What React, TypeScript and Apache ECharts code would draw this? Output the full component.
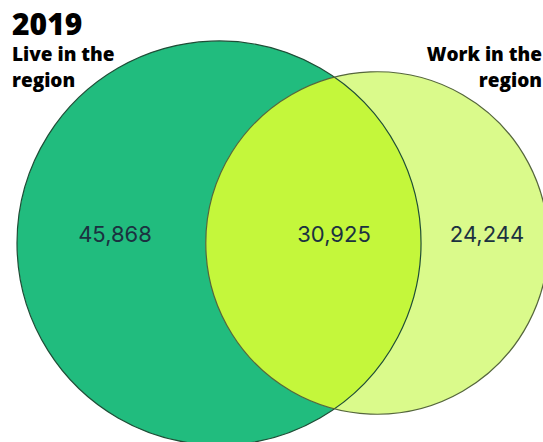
import React, { useEffect, useRef } from "react";
import * as echarts from "echarts";

// ---- data ----
const yearLabel = "2019";
const setNames = ["Live in the\nregion", "Work in the\nregion"];
const regionNames = ["Live only", "Live and work", "Work only"];
const regionValues = [45868, 30925, 24244];

// ---- layout / style ----
const W = 543;
const H = 442;
const CY = 243;
const LEFT_EDGE = 17;
const CENTER_GAP = 158;
const SCALE = 0.729; // px per sqrt(person)
const LABEL_X = [115, 334, 487];
const LABEL_Y = 234;
const circleFills = ["#21bc7e", "#dafa8b"];
const lensFill = "#c4f73b";
const circleStrokes = ["#1f4d36", "#55663c"];
const HEADING_TOP = 44.5;
const HEADING_LINE = 26;

export default function App() {
  const ref = useRef<HTMLDivElement>(null);
  useEffect(() => {
    const chart = echarts.init(ref.current!, null, { renderer: "svg" });
    const totals = [regionValues[0] + regionValues[1], regionValues[2] + regionValues[1]];
    const radii = totals.map((t) => SCALE * Math.sqrt(t));
    const c1x = LEFT_EDGE + radii[0];
    const c2x = c1x + CENTER_GAP;
    const circleData = [
      [c1x, CY, radii[0]],
      [c2x, CY, radii[1]],
    ];
    const labelData = regionValues.map((v, i) => [LABEL_X[i], LABEL_Y, v]);

    const circleItem = (fill: boolean) => (params: any, api: any) => {
      const c = api.coord([api.value(0), api.value(1)]);
      const r = Math.abs(api.size([api.value(2), 0])[0]);
      const i = params.dataIndex;
      return {
        type: "circle",
        shape: { cx: c[0], cy: c[1], r },
        style: fill
          ? { fill: circleFills[i], stroke: "none" }
          : { fill: "none", stroke: circleStrokes[i], lineWidth: 1.2 },
      };
    };

    const headingStyle = {
      fontFamily: "Open Sans",
      fontWeight: 800,
      fontSize: 19,
      lineHeight: 19,
      fill: "#000",
      verticalAlign: "top",
    };

    const headingLines: any[] = [];
    setNames.forEach((name, si) => {
      name.split("\n").forEach((line, li) => {
        headingLines.push({
          type: "text",
          x: si === 0 ? 12 : 542,
          y: HEADING_TOP + li * HEADING_LINE,
          style: { ...headingStyle, text: line, align: si === 0 ? "left" : "right" },
        });
      });
    });

    chart.setOption({
      animation: false,
      backgroundColor: "#ffffff",
      grid: { left: 0, right: 0, top: 0, bottom: 0 },
      xAxis: { type: "value", min: 0, max: W, show: false },
      yAxis: { type: "value", min: 0, max: H, inverse: true, show: false },
      series: [
        {
          type: "custom",
          name: "sets",
          data: circleData,
          renderItem: circleItem(true),
          z: 1,
        },
        {
          type: "custom",
          name: regionNames[1],
          data: [[c1x, CY, radii[0], c2x, radii[1]]],
          renderItem: (params: any, api: any) => {
            const x1 = api.value(0);
            const cy = api.value(1);
            const r1 = api.value(2);
            const x2 = api.value(3);
            const r2 = api.value(4);
            const d = x2 - x1;
            const a = (d * d + r1 * r1 - r2 * r2) / (2 * d);
            const h = Math.sqrt(r1 * r1 - a * a);
            const top = api.coord([x1 + a, cy - h]);
            const bot = api.coord([x1 + a, cy + h]);
            const pr1 = Math.abs(api.size([r1, 0])[0]);
            const pr2 = Math.abs(api.size([r2, 0])[0]);
            const pathData =
              `M ${top[0]} ${top[1]} A ${pr1} ${pr1} 0 0 1 ${bot[0]} ${bot[1]} ` +
              `A ${pr2} ${pr2} 0 0 1 ${top[0]} ${top[1]} Z`;
            return {
              type: "path",
              shape: { pathData },
              style: { fill: lensFill, stroke: "none" },
            };
          },
          z: 2,
        },
        {
          type: "custom",
          name: "outlines",
          data: circleData,
          renderItem: circleItem(false),
          z: 3,
        },
        {
          type: "custom",
          name: "values",
          data: labelData,
          renderItem: (params: any, api: any) => {
            const c = api.coord([api.value(0), api.value(1)]);
            return {
              type: "text",
              x: c[0],
              y: c[1],
              style: {
                text: Number(api.value(2)).toLocaleString("en-US"),
                align: "center",
                verticalAlign: "middle",
                fontFamily: "Inter",
                fontSize: 22,
                fill: "#1b3140",
              },
            };
          },
          z: 4,
        },
      ],
      graphic: [
        {
          type: "text",
          x: 12,
          y: 8,
          style: {
            text: yearLabel,
            fontFamily: "Open Sans",
            fontWeight: 800,
            fontSize: 30,
            fill: "#000",
            verticalAlign: "top",
          },
        },
        ...headingLines,
      ],
    });
    return () => chart.dispose();
  }, []);
  return (
    <div
      ref={ref}
      style={{ position: "fixed", left: 0, top: 0, width: W, height: H }}
    />
  );
}
